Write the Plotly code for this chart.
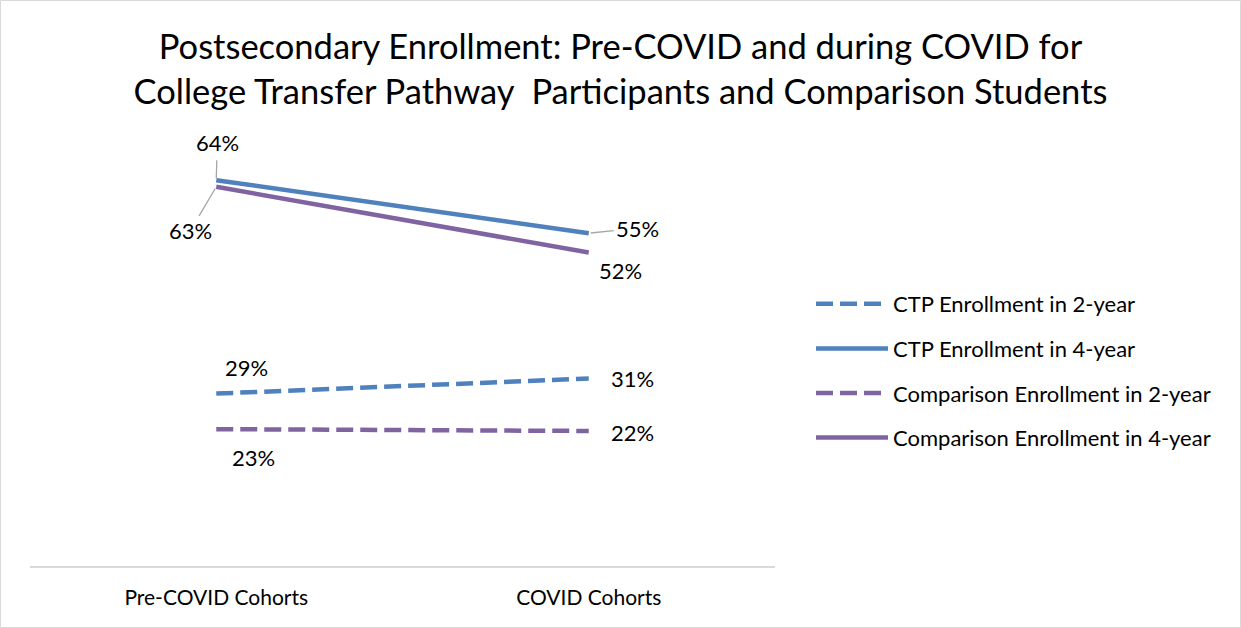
import plotly.graph_objects as go

categories = ["Pre-COVID Cohorts", "COVID Cohorts"]
series_names = ["CTP Enrollment in 2-year", "CTP Enrollment in 4-year",
                "Comparison Enrollment in 2-year", "Comparison Enrollment in 4-year"]
ctp_2yr = [0.286, 0.311]
ctp_4yr = [0.640, 0.552]
cmp_2yr = [0.227, 0.224]
cmp_4yr = [0.629, 0.520]

BLUE = "#4F81BD"
PURPLE = "#8064A2"
FONT = "Lato"
DASH = "17px,7px"

W, H = 1241, 628
ML, MR, MT, MB = 30, 466, 144, 62
PW, PH = W - ML - MR, H - MT - MB

fig = go.Figure()
specs = [
    (series_names[0], ctp_2yr, BLUE, DASH),
    (series_names[1], ctp_4yr, BLUE, "solid"),
    (series_names[2], cmp_2yr, PURPLE, DASH),
    (series_names[3], cmp_4yr, PURPLE, "solid"),
]
for i, (name, vals, col, dash) in enumerate(specs):
    fig.add_trace(go.Scatter(
        x=[0, 1], y=vals, mode="lines", name=name, legendgroup=f"g{i}",
        line=dict(color=col, width=4.5, dash=dash),
        hoverinfo="skip",
    ))

def lbl(v):
    return f"{round(v * 100):.0f}%"

annos = []
lab_font = dict(family=FONT, size=22, color="#000000")
# labels with leader lines
annos.append(dict(x=0, y=ctp_4yr[0], text=lbl(ctp_4yr[0]), showarrow=True, arrowhead=0,
                  arrowcolor="#A6A6A6", arrowwidth=1.3, ax=1, ay=-38, standoff=2,
                  borderpad=4, font=lab_font))
annos.append(dict(x=0, y=cmp_4yr[0], text=lbl(cmp_4yr[0]), showarrow=True, arrowhead=0,
                  arrowcolor="#A6A6A6", arrowwidth=1.3, ax=-26, ay=44, standoff=2,
                  borderpad=1, font=lab_font))
annos.append(dict(x=1, y=ctp_4yr[1], text=lbl(ctp_4yr[1]), showarrow=True, arrowhead=0,
                  arrowcolor="#A6A6A6", arrowwidth=1.3, ax=49, ay=-5, standoff=2,
                  borderpad=2, font=lab_font))
# labels without leader lines
plain = [
    (1, cmp_4yr[1], 32, -18),
    (0, ctp_2yr[0], 30, 26),
    (1, ctp_2yr[1], 44, 0),
    (0, cmp_2yr[0], 37, -28),
    (1, cmp_2yr[1], 44, -2),
]
for x, y, dx, dy in plain:
    annos.append(dict(x=x, y=y, text=lbl(y), showarrow=False, xshift=dx, yshift=dy,
                      font=lab_font))

fig.update_layout(
    width=W, height=H,
    margin=dict(l=ML, r=MR, t=MT, b=MB),
    paper_bgcolor="white", plot_bgcolor="white",
    title=dict(
        text="Postsecondary Enrollment: Pre-COVID and during COVID for<br>College Transfer Pathway  Participants and Comparison Students",
        x=0.5, xanchor="center", xref="container", y=1 - 59 / H, yanchor="top", yref="container",
        font=dict(family=FONT, size=34.5, color="#000000"),
    ),
    xaxis=dict(
        range=[-0.5, 1.5], tickvals=[0, 1], ticktext=categories,
        showgrid=False, zeroline=False, showline=True, linecolor="#D9D9D9", linewidth=1.5,
        ticks="", tickfont=dict(family=FONT, size=21, color="#000000"), ticklabelstandoff=12,
        fixedrange=True,
    ),
    yaxis=dict(range=[0, 0.7], visible=False, fixedrange=True),
    showlegend=True,
    legend=dict(
        x=(811 - ML) / PW, xanchor="left", y=(566 - 283) / PH, yanchor="top",
        font=dict(family=FONT, size=22, color="#000000"),
        itemwidth=72, tracegroupgap=13, traceorder="grouped",
        bgcolor="rgba(0,0,0,0)",
    ),
    annotations=annos,
    shapes=[dict(type="rect", xref="paper", yref="paper",
                 x0=(-ML + 0.5) / PW, x1=1 + (MR - 0.5) / PW,
                 y0=(-MB + 0.5) / PH, y1=1 + (MT - 0.5) / PH,
                 line=dict(color="#D9D9D9", width=1), layer="below")],
)

fig.write_html("out.html", config={"displayModeBar": False},
               post_script="document.body.style.margin='0px';")
